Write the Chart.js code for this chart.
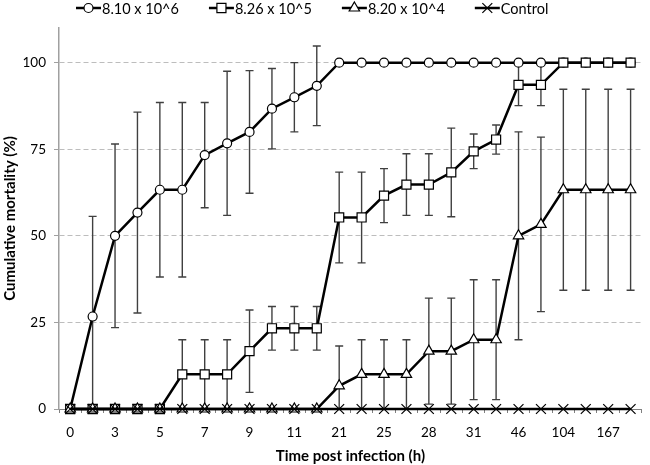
<!DOCTYPE html>
<html>
<head>
<meta charset="utf-8">
<script src="https://cdn.jsdelivr.net/npm/chart.js@4.4.1/dist/chart.umd.min.js"></script>
<style>
  html, body { margin: 0; padding: 0; background: #fff; }
  #wrap { width: 650px; height: 465px; position: relative; }
</style>
</head>
<body>
<div id="wrap"><canvas id="mortalityChart"></canvas></div>
<script>
// Cumulative mortality after infection - four doses plus control

// Only every other sampling time carries a label on the axis
const timeLabels = ['0', '', '3', '', '5', '', '7', '', '9', '', '11', '',
                    '21', '', '25', '', '28', '', '31', '', '46', '', '104', '', '167', ''];

const dose6 = [0, 26.7, 50, 56.7, 63.3, 63.3, 73.3, 76.7, 80, 86.7, 90, 93.3,
               100, 100, 100, 100, 100, 100, 100, 100, 100, 100, 100, 100, 100, 100];
const dose6Err = [0, 28.9, 26.5, 29, 25.2, 25.2, 15.2, 20.8, 17.7, 11.6, 10, 11.5,
                  0, 0, 0, 0, 0, 0, 0, 0, 0, 0, 0, 0, 0, 0];

const dose5 = [0, 0, 0, 0, 0, 10, 10, 10, 16.7, 23.3, 23.3, 23.3,
               55.3, 55.3, 61.6, 64.8, 64.8, 68.3, 74.4, 77.8, 93.6, 93.6, 100, 100, 100, 100];
const dose5Err = [0, 0, 0, 0, 0, 10, 10, 10, 11.9, 6.3, 6.3, 6.3,
                  13.1, 13.1, 7.8, 8.9, 8.9, 12.8, 5, 4.2, 6, 6, 0, 0, 0, 0];

const dose4 = [0, 0, 0, 0, 0, 0, 0, 0, 0, 0, 0, 0,
               6.7, 10, 10, 10, 16.7, 16.7, 20, 20, 50, 53.3, 63.3, 63.3, 63.3, 63.3];
const dose4Err = [0, 0, 0, 0, 0, 0, 0, 0, 0, 0, 0, 0,
                  11.5, 10, 10, 10, 15.3, 15.3, 17.3, 17.3, 30, 25.2, 29, 29, 29, 29];

const control = [0, 0, 0, 0, 0, 0, 0, 0, 0, 0, 0, 0, 0,
                 0, 0, 0, 0, 0, 0, 0, 0, 0, 0, 0, 0, 0];

const yTicks = [0, 25, 50, 75, 100];

const FONT = 'Lato, "Open Sans", sans-serif';

// Vertical error bars with caps, drawn underneath the lines
const errorBars = {
    id: 'errorBars',
    beforeDatasetsDraw(chart) {
        const { ctx, chartArea, scales: { x, y } } = chart;
        ctx.save();
        ctx.beginPath();
        ctx.rect(chartArea.left, chartArea.top, chartArea.right - chartArea.left, chartArea.bottom - chartArea.top);
        ctx.clip();
        ctx.strokeStyle = '#404040';
        ctx.lineWidth = 1.4;
        chart.data.datasets.forEach(ds => {
            if (!ds.errors) return;
            ds.data.forEach((v, i) => {
                const e = ds.errors[i];
                if (!e) return;
                const px = x.getPixelForValue(i);
                const top = y.getPixelForValue(v + e);
                const bot = y.getPixelForValue(v - e);
                ctx.beginPath();
                ctx.moveTo(px, top);
                ctx.lineTo(px, bot);
                ctx.moveTo(px - 4, top);
                ctx.lineTo(px + 4, top);
                ctx.moveTo(px - 4, bot);
                ctx.lineTo(px + 4, bot);
                ctx.stroke();
            });
        });
        ctx.restore();
    }
};

// Legend in the style of the original: short line with the marker, then the label
const lineLegend = {
    id: 'lineLegend',
    afterDraw(chart) {
        const ctx = chart.ctx;
        const lineLen = 25;
        const y = 8;
        let x = 76;
        ctx.save();
        ctx.font = '14.5px ' + FONT;
        ctx.textBaseline = 'middle';
        chart.data.datasets.forEach(ds => {
            ctx.strokeStyle = '#000';
            ctx.lineWidth = 2.5;
            ctx.beginPath();
            ctx.moveTo(x, y);
            ctx.lineTo(x + lineLen, y);
            ctx.stroke();
            ctx.fillStyle = '#fff';
            ctx.lineWidth = 1.2;
            Chart.helpers.drawPoint(ctx, {
                pointStyle: ds.pointStyle,
                radius: ds.pointRadius,
                rotation: 0,
                borderWidth: 1.2
            }, x + lineLen / 2, y);
            ctx.fillStyle = '#000';
            ctx.fillText(ds.label, x + lineLen + 1, y + 1);
            x += lineLen + 1 + ctx.measureText(ds.label).width + 30;
        });
        ctx.restore();
    }
};

function series(label, data, errors, style, radius, order) {
    return {
        label: label,
        data: data,
        errors: errors,
        order: order,
        borderColor: '#000',
        borderWidth: 2.5,
        pointStyle: style,
        pointRadius: radius,
        pointBackgroundColor: '#fff',
        pointBorderColor: '#000',
        pointBorderWidth: 1.2,
        tension: 0,
        fill: false,
        clip: false
    };
}

const ctx = document.getElementById('mortalityChart').getContext('2d');
new Chart(ctx, {
    type: 'line',
    data: {
        labels: timeLabels,
        datasets: [
            series('8.10 x 10^6', dose6, dose6Err, 'circle', 4.5, 4),
            series('8.26 x 10^5', dose5, dose5Err, 'rect', 6.4, 3),
            series('8.20 x 10^4', dose4, dose4Err, 'triangle', 6, 2),
            series('Control', control, null, 'crossRot', 7, 1)
        ]
    },
    options: {
        responsive: true,
        maintainAspectRatio: false,
        animation: false,
        layout: { padding: { left: 0, right: 2, top: 28, bottom: 0 } },
        plugins: {
            legend: { display: false },
            tooltip: { enabled: false }
        },
        scales: {
            x: {
                offset: true,
                afterFit: s => { s.height = 56; },
                grid: {
                    offset: true,
                    drawOnChartArea: false,
                    tickLength: 4,
                    color: '#808080'
                },
                border: { color: '#808080', width: 1 },
                ticks: {
                    autoSkip: false,
                    maxRotation: 0,
                    padding: 12,
                    color: '#000',
                    font: { family: FONT, size: 13.5 }
                },
                title: {
                    display: true,
                    text: 'Time post infection (h)',
                    color: '#000',
                    font: { family: FONT, size: 15, weight: 'bold' },
                    padding: { top: 0, bottom: 0 }
                }
            },
            y: {
                min: 0,
                max: 110,
                afterFit: s => { s.width = 59; },
                afterBuildTicks: s => { s.ticks = yTicks.map(v => ({ value: v })); },
                grid: {
                    color: '#bdbdbd',
                    lineWidth: 1,
                    tickLength: 5,
                    tickBorderDash: [],
                    tickColor: '#a0a0a0'
                },
                border: { color: '#a0a0a0', width: 1.5, dash: [5, 3] },
                ticks: {
                    padding: 8,
                    color: '#000',
                    font: { family: FONT, size: 13.5 }
                },
                title: {
                    display: true,
                    text: 'Cumulative mortality (%)',
                    color: '#000',
                    font: { family: FONT, size: 15, weight: 'bold' },
                    padding: { top: 1, bottom: 0 }
                }
            }
        }
    },
    plugins: [errorBars, lineLegend]
});
</script>
</body>
</html>
